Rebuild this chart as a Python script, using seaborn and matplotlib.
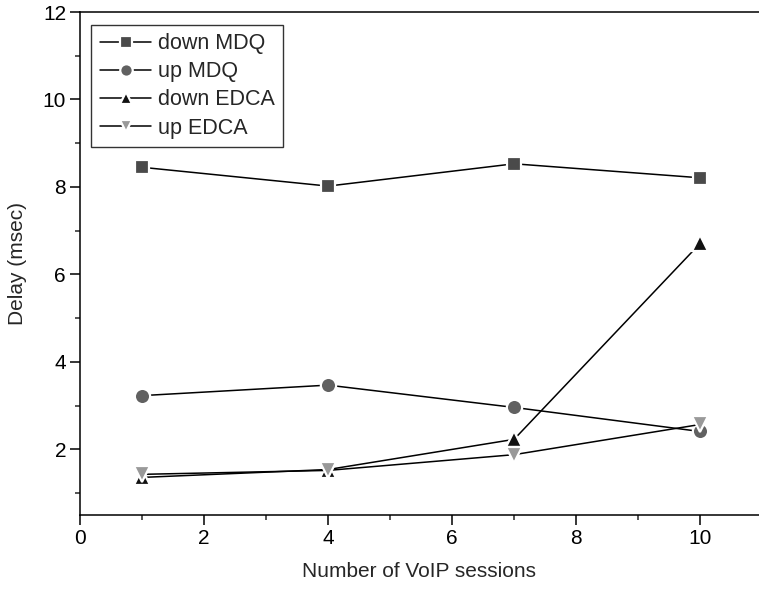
import matplotlib
matplotlib.use("Agg")
import matplotlib.pyplot as plt
import seaborn as sns
import pandas as pd
from matplotlib.ticker import MultipleLocator

sessions = [1, 4, 7, 10]
down_mdq = [8.45, 8.02, 8.53, 8.21]
up_mdq = [3.23, 3.47, 2.96, 2.41]
down_edca = [1.36, 1.54, 2.23, 6.71]
up_edca = [1.43, 1.52, 1.88, 2.57]

series = [
    ("down MDQ", down_mdq, "s", "#4a4a4a", 10),
    ("up MDQ", up_mdq, "o", "#616161", 11),
    ("down EDCA", down_edca, "^", "#111111", 12),
    ("up EDCA", up_edca, "v", "#999999", 12),
]

sns.set_style("ticks")
plt.rcParams['font.family'] = ['Liberation Sans', 'DejaVu Sans']
plt.rcParams['font.size'] = 15

fig = plt.figure(figsize=(7.59, 5.89), dpi=100)
ax = fig.add_axes([0.1054, 0.1256, 0.8946, 0.854])

for name, vals, marker, color, size in series:
    df = pd.DataFrame({"sessions": sessions, "delay": vals})
    sns.lineplot(data=df, x="sessions", y="delay", ax=ax, label=name,
                 color="black", linewidth=1.1, marker=marker, markersize=size,
                 markerfacecolor=color, markeredgecolor="white",
                 markeredgewidth=1.6)

ax.set_xlim(0, 10.95)
ax.set_ylim(0.5, 12)
ax.xaxis.set_major_locator(MultipleLocator(2))
ax.xaxis.set_minor_locator(MultipleLocator(1))
ax.yaxis.set_minor_locator(MultipleLocator(1))
ax.set_yticks([2, 4, 6, 8, 10, 12])
ax.tick_params(which="major", direction="out", length=7, width=1.1, labelsize=15,
               colors="black", pad=3)
ax.tick_params(which="minor", direction="out", length=3.8, width=1.1)

for side in ["left", "bottom", "top"]:
    ax.spines[side].set_color("black")
    ax.spines[side].set_linewidth(1.1)
ax.spines["right"].set_visible(False)

ax.set_xlabel("Number of VoIP sessions", fontsize=15, labelpad=10)
ax.set_ylabel("Delay (msec)", fontsize=15, labelpad=11)

leg = ax.legend(loc="upper left", bbox_to_anchor=(0.0165, 0.975), fontsize=15.5,
                frameon=True, fancybox=False, edgecolor="black",
                handlelength=2.4, handletextpad=0.3, labelspacing=0.33,
                borderpad=0.4, borderaxespad=0)
leg.get_frame().set_linewidth(1.0)
for h in leg.legend_handles:
    h.set_markersize(9)

fig.savefig("out.png", dpi=100)
